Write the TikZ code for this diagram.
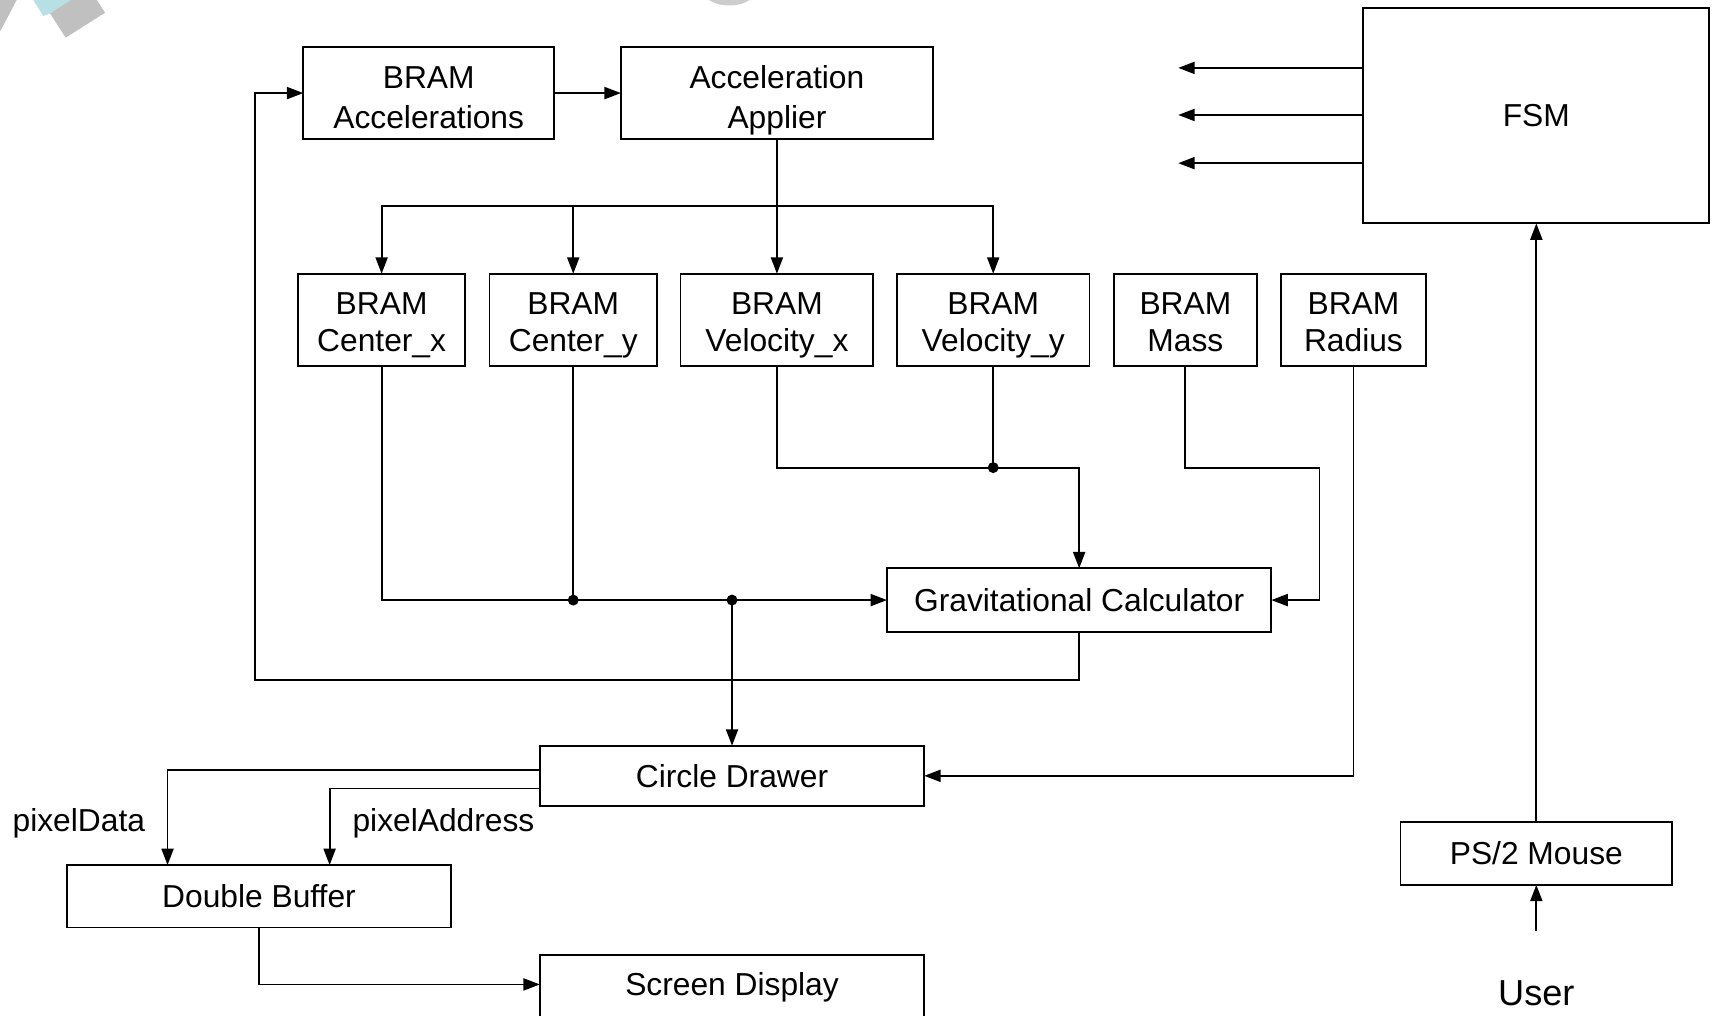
\documentclass[tikz,border=0pt]{standalone}
\usepackage{fontspec}
\setmainfont{Liberation Sans}
\usetikzlibrary{arrows.meta,calc}
\definecolor{wmgray}{HTML}{C0C0C0}
\definecolor{wmcyan}{HTML}{B7E0E4}
\newcommand\twoline[4]{\rule{0pt}{#1}#3\\#4\rule[-#2]{0pt}{#2}}
\begin{document}
\begin{tikzpicture}[x=1pt,y=-1pt,
  box/.style={draw, line width=1.7pt, inner sep=0pt, outer sep=0pt, align=center,
    font=\fontsize{29}{34}\selectfont},
  topbox/.style={box, font=\fontsize{29}{36}\selectfont},
  lbl/.style={inner sep=0pt, font=\fontsize{29}{34}\selectfont},
  wire/.style={line width=1.7pt},
  arr/.style={wire, -{Triangle[length=15pt,width=11pt]}},
  dot/.style={fill=black}]
\useasboundingbox (0,0) rectangle (1568,927);
\clip (0,0) rectangle (1568,927);
\fill[white] (0,0) rectangle (1568,927);
% background decorations
\fill[wmgray] (0,0) -- (15.2,0) -- (0,28.9) -- cycle;
\fill[wmcyan] (30.4,0) -- (64.8,0) -- (45.7,12.2) -- (39.6,14.6) -- cycle;
\fill[wmgray] (45.7,12.2) -- (64.8,0) -- (88.6,0) -- (95.9,11.6) -- (60,34.4) -- cycle;
\fill[wmgray!80] (666,-6) ellipse (22pt and 11pt);
\fill[black!75] (666,-8) ellipse (15pt and 8pt);

% nodes
\node[topbox, minimum width=229, minimum height=84] (acc) at (391.5,85) {\twoline{35pt}{7pt}{BRAM}{Accelerations}};
\node[topbox, minimum width=285, minimum height=84] (app) at (709.5,85) {\twoline{35pt}{7pt}{Acceleration}{Applier}};
\node[box, minimum width=153, minimum height=84] (cx) at (348.5,292) {\twoline{31pt}{7pt}{BRAM}{Center\_x}};
\node[box, minimum width=153, minimum height=84] (cy) at (523.5,292) {\twoline{31pt}{7pt}{BRAM}{Center\_y}};
\node[box, minimum width=176, minimum height=84] (vx) at (709.5,292) {\twoline{31pt}{7pt}{BRAM}{Velocity\_x}};
\node[box, minimum width=176, minimum height=84] (vy) at (907,292) {\twoline{31pt}{7pt}{BRAM}{Velocity\_y}};
\node[box, minimum width=131, minimum height=84] (mass) at (1082.5,292) {\twoline{31pt}{7pt}{BRAM}{Mass}};
\node[box, minimum width=132, minimum height=84] (rad) at (1236,292) {\twoline{31pt}{7pt}{BRAM}{Radius}};
\node[box, minimum width=316, minimum height=197] (fsm) at (1403,105.5) {FSM};
\node[box, minimum width=248, minimum height=57] (mouse) at (1403,779.5) {PS/2 Mouse};
\node[box, minimum width=351, minimum height=58] (grav) at (985.5,548) {Gravitational Calculator};
\node[box, minimum width=351, minimum height=55] (circ) at (668.5,708.5) {Circle Drawer};
\node[box, minimum width=351, minimum height=57] (dbuf) at (236.5,818.5) {Double Buffer};
\node[box, minimum width=351, minimum height=60] (screen) at (668.5,902) {Screen Display};
\node[inner sep=0pt, outer sep=45pt, font=\fontsize{33}{40}\selectfont] (user) at (1403,907) {User};
\node[lbl] (pdata) at (72,752) {pixelData};
\node[lbl] (paddr) at (405,752) {pixelAddress};

% coordinates
\coordinate (fbc) at (233,621);
\coordinate (bus) at (709.5,188);
\coordinate (vj) at (907,427);
\coordinate (mc) at (1205,427);
\coordinate (f1) at (1076,62);
\coordinate (f2) at (1076,105);
\coordinate (f3) at (1076,149);

% connectors
\draw[arr] (acc.east) -- (app.west);
\draw[arr] (grav.south) |- (fbc) |- (acc.west);
\draw[arr] (app.south) -- (vx.north);
\draw[arr] (bus) -| (cx.north);
\draw[arr] (bus) -| (cy.north);
\draw[arr] (bus) -| (vy.north);
\draw[wire] (vy.south) -- (vj);
\draw[arr] (vx.south) |- (vj) -| (grav.north);
\draw[arr] (mass.south) |- (mc) |- (grav.east);
\draw[arr] (cx.south) |- (grav.west);
\draw[wire] (cy.south) -- (cy.south |- grav.west);
\draw[arr] (circ.north |- grav.west) -- (circ.north);
\draw[arr] (rad.south) |- (circ.east);
\draw[arr] ([yshift=5.5pt]circ.west) -| ([xshift=-83.5pt]dbuf.north);
\draw[arr] ([yshift=-11.5pt]circ.west) -| ([xshift=64.5pt]dbuf.north);
\draw[arr] (dbuf.south) |- ([yshift=3pt]screen.west);
\draw[arr] (fsm.west |- f1) -- (f1);
\draw[arr] (fsm.west |- f2) -- (f2);
\draw[arr] (fsm.west |- f3) -- (f3);
\draw[arr] (mouse.north) -- (fsm.south);
\draw[arr] (user.north) -- (mouse.south);

% junction dots
\fill[dot] (vj) circle (5pt);
\fill[dot] (cy.south |- grav.west) circle (5pt);
\fill[dot] (circ.north |- grav.west) circle (5pt);
\end{tikzpicture}
\end{document}
